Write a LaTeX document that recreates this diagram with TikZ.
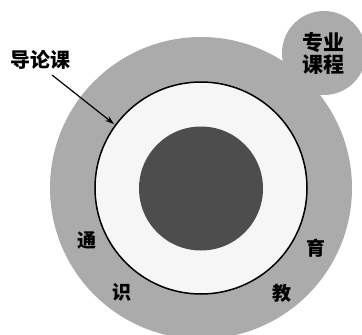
\documentclass[tikz,border=0pt]{standalone}
\usepackage{fontspec}
\newfontfamily\cjk{Noto Sans CJK SC}
\usetikzlibrary{arrows.meta}
\definecolor{ringgray}{HTML}{ABABAB}
\definecolor{coregray}{HTML}{4D4D4D}
\definecolor{innerwhite}{HTML}{F6F6F6}
\tikzset{
  lbl/.style={font=\cjk\bfseries\fontsize{20}{20}\selectfont, inner sep=0pt},
  spectext/.style={font=\cjk\bfseries\fontsize{21}{22}\selectfont, inner sep=0pt, align=center},
  ring/.style={font=\cjk\bfseries\fontsize{19}{19}\selectfont, inner sep=0pt},
}
\begin{document}
\begin{tikzpicture}[x=1pt,y=-1pt]
\useasboundingbox (0,0) rectangle (362,335);
\begin{scope}
\clip (0,0) rectangle (362,335);
\fill[ringgray] (201,188) circle (151);
\fill[ringgray] (324,53) circle (42);
\end{scope}
\node[circle, draw=black, line width=1.5pt, fill=innerwhite, minimum size=212pt, inner sep=0pt] (white) at (201,188) {};
\node[circle, fill=coregray, minimum size=124pt, inner sep=0pt] (core) at (201,188.5) {};
\node[spectext] (spec) at (323,53) {专业\\课程};
\node[lbl] (intro) at (40,60) {导论课};
\coordinate (tip) at (114,124);
\draw[line width=1.2pt, -{Stealth[length=9pt,width=6pt]}] (52,75) -- (tip);
\node[ring] (t1) at (87,240) {通};
\node[ring] (t2) at (122,292) {识};
\node[ring] (t3) at (282,293) {教};
\node[ring] (t4) at (316,248) {育};
\end{tikzpicture}
\end{document}
